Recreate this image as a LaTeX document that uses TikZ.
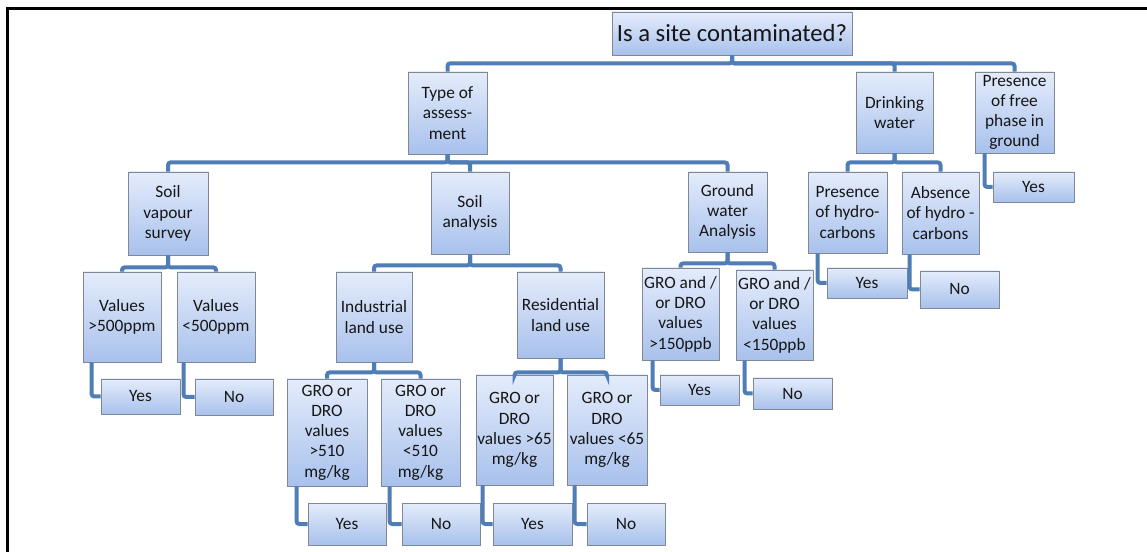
\documentclass[tikz,border=0pt]{standalone}
\usepackage{fontspec}
\setmainfont{Carlito}
\usetikzlibrary{shadows}
\definecolor{boxtop}{RGB}{228,236,251}
\definecolor{boxbot}{RGB}{168,193,236}
\definecolor{boxline}{RGB}{128,136,150}
\definecolor{connblue}{RGB}{79,125,182}
\definecolor{txt}{RGB}{22,22,22}
\tikzset{
  box/.style={draw=boxline, line width=0.6pt, top color=boxtop, bottom color=boxbot,
    inner sep=0pt, align=center, font=\fontsize{13}{15.2}\selectfont, text=txt,
    drop shadow={shadow xshift=1pt, shadow yshift=-1pt, opacity=0.35, fill=black!60}},
  conn/.style={draw=connblue, line width=3pt, rounded corners=2pt},
}
\newcommand\bx[6]{\node[box, minimum width={(#4-#2)*0.75pt}, minimum height={(#5-#3)*0.75pt}] (#1) at ({(#2+#4)/2},{(#3+#5)/2}) {#6};}
\begin{document}
\begin{tikzpicture}[x=0.75pt,y=-0.75pt]
\useasboundingbox (0,0) rectangle (1147,552);
\draw[line width=2.25pt] (7.5,553) -- (7.5,8.5) -- (1148,8.5);

\node[box, font=\fontsize{18.5}{20}\selectfont, minimum width=180pt, minimum height=32.25pt] (root) at (732,33.5) {Is a site contaminated?};
\bx{ta}{408}{72}{487}{154}{Type of\\assess-\\ment}
\bx{dw}{856}{72}{933}{153}{Drinking\\water}
\bx{fp}{975}{72}{1054}{153}{Presence\\of free\\phase in\\ground}
\bx{sv}{128}{172}{208}{255}{Soil\\vapour\\survey}
\bx{sa}{431}{172}{509}{254}{Soil\\analysis}
\bx{gw}{688}{172}{767}{252}{Ground\\water\\Analysis}
\bx{ph}{808}{172}{887}{253}{Presence\\of hydro-\\carbons}
\bx{ah}{902}{172}{979}{254}{Absence\\of hydro -\\carbons}
\bx{fpy}{993}{172}{1074}{202}{Yes}
\bx{v1}{83}{272}{161}{362}{Values\\>500ppm}
\bx{v2}{177}{272}{255}{362}{Values\\<500ppm}
\bx{il}{336}{272}{412}{362}{Industrial\\land use}
\bx{rl}{517}{272}{604}{358}{Residential\\land use}
\bx{g1}{642}{268}{719}{360}{GRO and /\\or DRO\\values\\>150ppb}
\bx{g2}{736}{270}{813}{360}{GRO and /\\or DRO\\values\\<150ppb}
\bx{phy}{827}{268}{907}{298}{Yes}
\bx{ahn}{920}{271}{999}{308}{No}
\bx{v1y}{101}{379}{180}{414}{Yes}
\bx{v2n}{195}{379}{273}{415}{No}
\bx{i1}{287}{379}{367}{486}{GRO or\\DRO\\values\\>510\\mg/kg}
\bx{i2}{381}{379}{460}{486}{GRO or\\DRO\\values\\<510\\mg/kg}
\bx{r1}{476}{375}{553}{485}{GRO or\\DRO\\values >65\\mg/kg}
\bx{r2}{567}{375}{647}{485}{GRO or\\DRO\\values <65\\mg/kg}
\bx{g1y}{660}{375}{739}{405}{Yes}
\bx{g2n}{753}{378}{832}{409}{No}
\bx{i1y}{308}{503}{386}{545}{Yes}
\bx{i2n}{402}{503}{480}{545}{No}
\bx{r1y}{493}{503}{572}{545}{Yes}
\bx{r2n}{587}{503}{665}{545}{No}

% tree connectors
\draw[conn] (root.south) -- ++(0,8) -| (ta.north);
\draw[conn] (root.south) -- ++(0,8) -| (dw.north);
\draw[conn] (root.south) -- ++(0,8) -| (fp.north);
\draw[conn] (ta.south) -- ++(0,8) -| (sv.north);
\draw[conn] (ta.south) -- ++(0,8) -| (sa.north);
\draw[conn] (ta.south) -- ++(0,8) -| (gw.north);
\draw[conn] (dw.south) -- ++(0,9) -| (ph.north);
\draw[conn] (dw.south) -- ++(0,9) -| (ah.north);
\draw[conn] (sv.south) -- ++(0,12) -| (v1.north);
\draw[conn] (sv.south) -- ++(0,12) -| (v2.north);
\draw[conn] (sa.south) -- ++(0,11) -| (il.north);
\draw[conn] (sa.south) -- ++(0,11) -| (rl.north);
\draw[conn] (gw.south) -- ++(0,11) -| (g1.north);
\draw[conn] (gw.south) -- ++(0,11) -| (g2.north);
\draw[conn] (il.south) -- ++(0,10) -| (i1.north);
\draw[conn] (il.south) -- ++(0,10) -| (i2.north);
\draw[conn] (rl.south) -- ++(0,14) -| (r1.north);
\draw[conn] (rl.south) -- ++(0,14) -| (r2.north);

% elbow connectors to answers
\draw[conn] ([xshift=7.5pt]fp.south west) |- (fpy.west);
\draw[conn] ([xshift=7.5pt]ph.south west) |- (phy.west);
\draw[conn] ([xshift=6pt]ah.south west) |- (ahn.west);
\draw[conn] ([xshift=6.75pt]v1.south west) |- (v1y.west);
\draw[conn] ([xshift=5.25pt]v2.south west) |- (v2n.west);
\draw[conn] ([xshift=7.5pt]i1.south west) |- (i1y.west);
\draw[conn] ([xshift=6.75pt]i2.south west) |- (i2n.west);
\draw[conn] ([xshift=5.25pt]r1.south west) |- (r1y.west);
\draw[conn] ([xshift=6pt]r2.south west) |- (r2n.west);
\draw[conn] ([xshift=8.25pt]g1.south west) |- (g1y.west);
\draw[conn] ([xshift=6.75pt]g2.south west) |- (g2n.west);
\end{tikzpicture}
\end{document}
